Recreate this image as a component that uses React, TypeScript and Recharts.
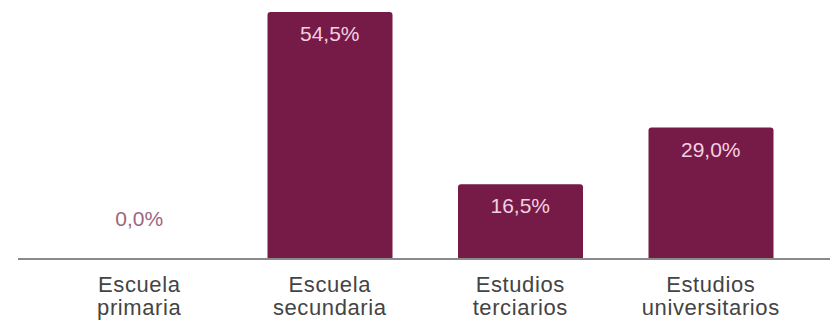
import { ComposedChart, Bar, Line, XAxis, YAxis, LabelList } from 'recharts'

const categories = ['Escuela primaria', 'Escuela secundaria', 'Estudios terciarios', 'Estudios universitarios']
const shares = [0, 54.5, 16.5, 29.0]

const data = categories.map((name, i) => ({ name, value: shares[i] }))

const BAR_COLOR = '#761b47'
const FONT = '"Liberation Sans", Arial, sans-serif'

const fmt = (v: number) => v.toFixed(1).replace('.', ',') + '%'

const CategoryTick = ({ x, payload }: any) => {
  const words = String(payload.value).split(' ')
  return (
    <text x={x} y={292} textAnchor="middle" fill="#444" fontSize={22} letterSpacing={0.6} fontFamily={FONT}>
      {words.map((w: string, i: number) => (
        <tspan key={i} x={x} dy={i === 0 ? 0 : 23}>
          {w}
        </tspan>
      ))}
    </text>
  )
}

// labels ride on an invisible line so the zero value still gets one
const ValueLabel = ({ x, y, value }: any) => {
  if (value === 0) {
    return (
      <text x={x} y={y - 33} textAnchor="middle" fill="#9c6680" fontSize={21} fontFamily={FONT}>
        {fmt(value)}
      </text>
    )
  }
  return (
    <text x={x} y={y + 29} textAnchor="middle" fill="#f4cfe1" fontSize={21} fontFamily={FONT}>
      {fmt(value)}
    </text>
  )
}

export default function App() {
  return (
    <div style={{ position: 'fixed', left: 0, top: 0, background: '#fff' }}>
      <ComposedChart width={830} height={320} data={data} margin={{ top: 12, right: 0, left: 18, bottom: 0 }}>
        <XAxis
          dataKey="name"
          height={61}
          interval={0}
          padding={{ left: 26, right: 24 }}
          tickLine={false}
          axisLine={{ stroke: '#8a8a8a', strokeWidth: 2 }}
          tick={<CategoryTick />}
        />
        <YAxis hide domain={[0, 54.5]} />
        <Bar dataKey="value" fill={BAR_COLOR} barSize={125} radius={[3, 3, 0, 0]} isAnimationActive={false} />
        <Line dataKey="value" stroke="none" dot={false} activeDot={false} isAnimationActive={false}>
          <LabelList dataKey="value" content={<ValueLabel />} />
        </Line>
      </ComposedChart>
    </div>
  )
}
